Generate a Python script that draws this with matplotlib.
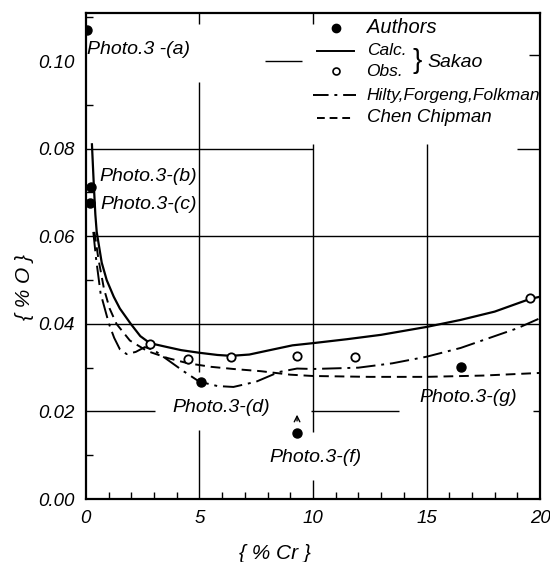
import matplotlib
matplotlib.use("Agg")
import matplotlib.pyplot as plt
from matplotlib.ticker import MultipleLocator
from matplotlib.lines import Line2D

plt.rcParams['font.family'] = ['Liberation Sans Narrow', 'Liberation Sans', 'DejaVu Sans']
plt.rcParams['font.style'] = 'italic'

# Authors (filled points)
auth_x = [0.05, 0.22, 0.18, 5.07, 9.3, 16.5]
auth_y = [0.107, 0.0713, 0.0677, 0.0267, 0.0151, 0.0302]
auth_lbl = ["Photo.3 -(a)", "Photo.3-(b)", "Photo.3-(c)", "Photo.3-(d)", "Photo.3-(f)", "Photo.3-(g)"]

# Sakao observed (open points)
obs_x = [2.82, 4.5, 6.38, 9.3, 11.85, 19.56]
obs_y = [0.0354, 0.0320, 0.0325, 0.0327, 0.0324, 0.0459]

# Sakao calculated (solid)
calc_x = [0.27, 0.35, 0.42, 0.48, 0.7, 0.92, 1.23, 1.5, 1.98, 2.4, 2.82, 3.5, 4.2, 5.0,
          5.8, 6.4, 7.2, 8.1, 9.1, 10.0, 11.5, 13.0, 15.0, 16.5, 18.0, 19.56, 20.0]
calc_y = [0.081, 0.072, 0.065, 0.061, 0.054, 0.050, 0.0462, 0.0435, 0.040, 0.0372, 0.0356,
          0.0348, 0.0340, 0.0334, 0.0329, 0.0327, 0.0330, 0.0340, 0.0351, 0.0356, 0.0365,
          0.0375, 0.0393, 0.0409, 0.0428, 0.0457, 0.0462]

# Hilty, Forgeng, Folkman (dash-dot)
hff_x = [0.33, 0.45, 0.65, 1.02, 1.25, 1.5, 1.8, 2.2, 2.6, 3.0, 3.6, 4.3, 5.0, 5.8, 6.5,
         7.5, 8.5, 9.3, 10.0, 12.0, 13.5, 15.0, 16.5, 17.5, 19.0, 20.0]
hff_y = [0.061, 0.055, 0.047, 0.040, 0.0368, 0.0342, 0.0331, 0.0336, 0.0347, 0.0340,
         0.0318, 0.0292, 0.0268, 0.0258, 0.0256, 0.0268, 0.0290, 0.0298, 0.0297, 0.0300,
         0.0310, 0.0325, 0.0345, 0.0363, 0.0390, 0.0413]

# Chen, Chipman (dashed)
cc_x = [0.38, 0.55, 0.8, 1.05, 1.35, 1.94, 2.7, 3.6, 4.5, 5.5, 6.5, 7.7, 9.0, 10.0,
        12.5, 15.0, 17.5, 20.0]
cc_y = [0.061, 0.055, 0.048, 0.0435, 0.040, 0.0362, 0.0338, 0.0322, 0.0310, 0.0302,
        0.0297, 0.0292, 0.0284, 0.0281, 0.0279, 0.0279, 0.0282, 0.0288]

fig = plt.figure(figsize=(5.5, 5.62), dpi=100)
ax = fig.add_axes([0.156, 0.112, 0.826, 0.865])

# broken grid as in the printed figure
gkw = dict(color='black', lw=1.0, zorder=1)
ax.vlines(5, 0, 0.0158, **gkw)
ax.vlines(5, 0.029, 0.0953, **gkw)
ax.vlines(5, 0.1085, 0.111, **gkw)
ax.vlines(10, 0, 0.0043, **gkw)
ax.vlines(10, 0.0153, 0.081, **gkw)
ax.vlines(10, 0.1085, 0.111, **gkw)
ax.vlines(15, 0, 0.081, **gkw)
ax.hlines(0.02, 0, 3.05, **gkw)
ax.hlines(0.02, 9.9, 13.8, **gkw)
ax.hlines(0.02, 19.7, 20, **gkw)
ax.hlines(0.04, 0, 20, **gkw)
ax.hlines(0.06, 0, 20, **gkw)
ax.hlines(0.08, 0, 10, **gkw)
ax.hlines(0.08, 19.0, 20, **gkw)
ax.hlines(0.1, 7.9, 9.5, **gkw)
ax.hlines(0.1015, 19.5, 20, **gkw)

ax.plot(calc_x, calc_y, color='black', lw=1.6, zorder=3)
ax.plot(hff_x, hff_y, color='black', lw=1.4, dashes=[10, 3, 1.5, 3], zorder=3)
ax.plot(cc_x, cc_y, color='black', lw=1.4, dashes=[5, 3], zorder=3)
ax.plot(obs_x, obs_y, 'o', ms=6, mfc='white', mec='black', mew=1.3, zorder=4)
ax.plot(auth_x, auth_y, 'o', ms=6.5, color='black', zorder=4)

# photo labels
lbl_pos = [(0.05, 0.1026), (0.6, 0.0736), (0.65, 0.0672), (3.8, 0.021), (8.1, 0.0094), (14.7, 0.0233)]
for (tx, ty), s in zip(lbl_pos, auth_lbl):
    ax.text(tx, ty, s, fontsize=14, va='center', ha='left', zorder=5)
ax.annotate('', xy=(9.3, 0.0199), xytext=(9.3, 0.0172),
            arrowprops=dict(arrowstyle='->', lw=1.0, color='black'))

# legend drawn by hand
tr = ax.transAxes
lx0, lx1, tx = 0.51, 0.59, 0.618
ax.add_line(Line2D([0.55], [0.969], transform=tr, marker='o', ms=6, color='black'))
ax.text(tx, 0.969, 'Authors', transform=tr, fontsize=14.5, va='center')
ax.add_line(Line2D([lx0, lx1], [0.922, 0.922], transform=tr, color='black', lw=1.4))
ax.text(tx, 0.922, 'Calc.', transform=tr, fontsize=12.5, va='center')
ax.add_line(Line2D([0.55], [0.881], transform=tr, marker='o', ms=5, mfc='white',
                   mec='black', mew=1.2))
ax.text(tx, 0.879, 'Obs.', transform=tr, fontsize=12.5, va='center')
ax.text(0.72, 0.902, '}', transform=tr, fontsize=20, va='center', style='normal')
ax.text(0.752, 0.897, 'Sakao', transform=tr, fontsize=14, va='center')
ax.add_line(Line2D([lx0 - 0.01, lx1 + 0.005], [0.831, 0.831], transform=tr, color='black',
                   lw=1.4, dashes=[8, 3, 1.5, 3]))
ax.text(tx, 0.831, 'Hilty,Forgeng,Folkman', transform=tr, fontsize=12.5, va='center',
        clip_on=True)
ax.add_line(Line2D([lx0, lx1], [0.784, 0.784], transform=tr, color='black', lw=1.4,
                   dashes=[4, 2.5]))
ax.text(tx, 0.784, 'Chen Chipman', transform=tr, fontsize=13.5, va='center')

ax.set_xlim(0, 20)
ax.set_ylim(0, 0.111)
ax.xaxis.set_minor_locator(MultipleLocator(1))
ax.yaxis.set_minor_locator(MultipleLocator(0.01))
ax.tick_params(which='both', direction='in', top=False, right=False, labelsize=13.5)
ax.tick_params(which='major', length=0, pad=8)
ax.tick_params(which='minor', length=5, width=1)
ax.set_xticks([0, 5, 10, 15, 20])
ax.set_xticklabels(['0', '5', '10', '15', '20'])
ax.set_yticks([0.0, 0.02, 0.04, 0.06, 0.08, 0.10])
ax.set_yticklabels(['0.00', '0.02', '0.04', '0.06', '0.08', '0.10'])
for sp in ax.spines.values():
    sp.set_linewidth(1.6)

ax.set_xlabel('{ % Cr }', fontsize=15)
ax.xaxis.set_label_coords(0.416, -0.092)
ax.set_ylabel('{ % O }', fontsize=15)
ax.yaxis.set_label_coords(-0.115, 0.436)

fig.savefig('out.png', dpi=100)
